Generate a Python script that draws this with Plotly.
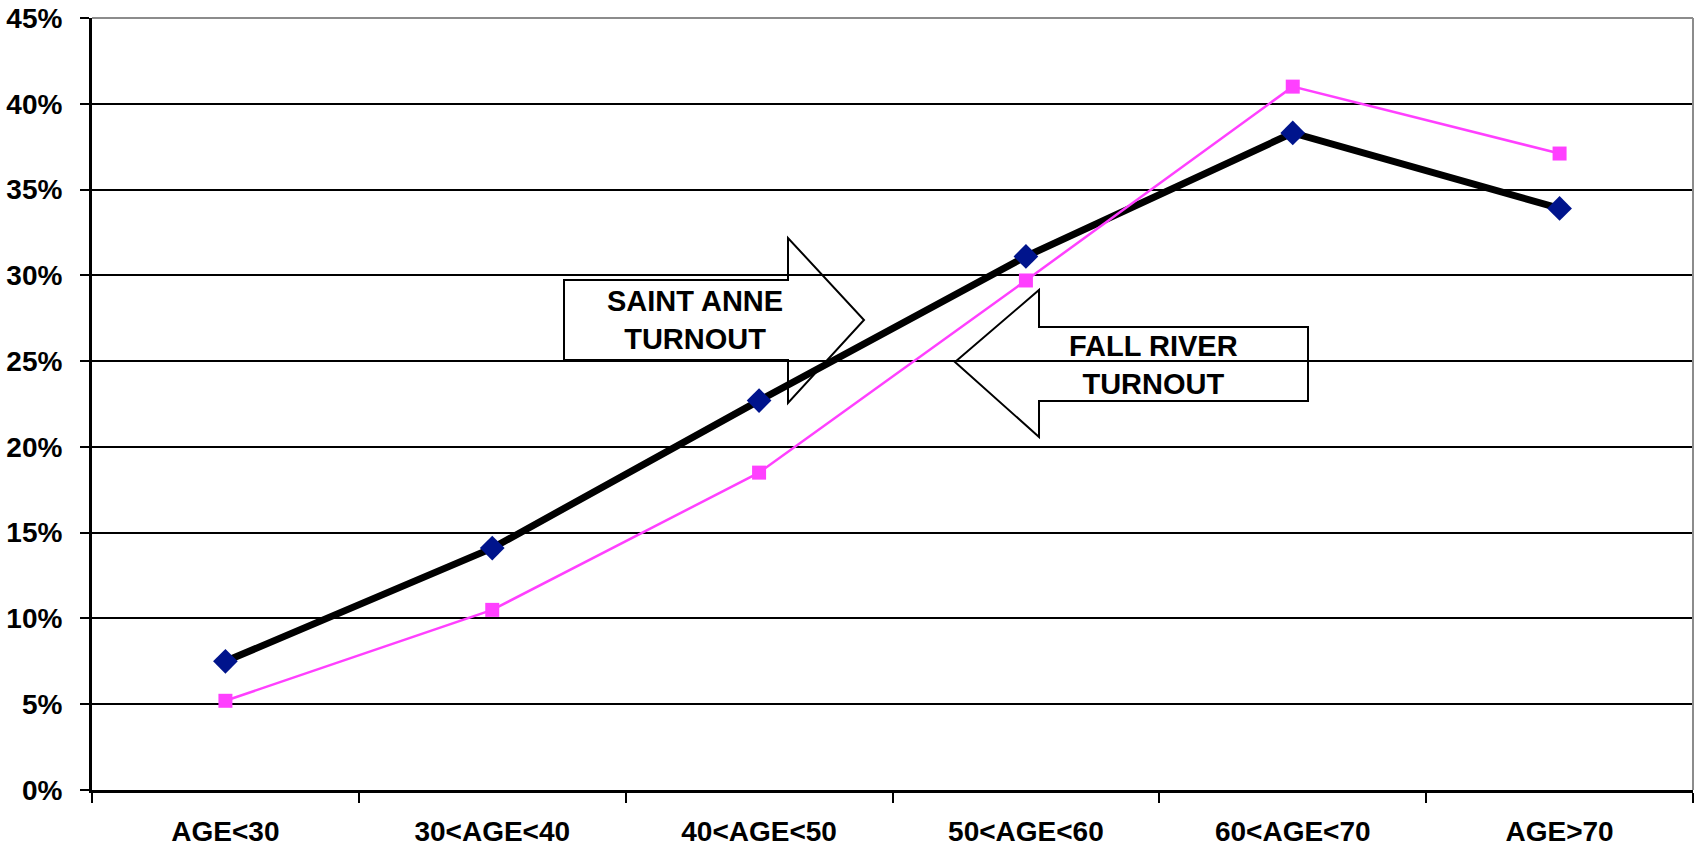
import plotly.graph_objects as go

categories = ["AGE<30", "30<AGE<40", "40<AGE<50", "50<AGE<60", "60<AGE<70", "AGE>70"]
saint_anne = [0.075, 0.141, 0.227, 0.311, 0.383, 0.339]
fall_river = [0.052, 0.105, 0.185, 0.297, 0.410, 0.371]
y_ticks = [0, 0.05, 0.10, 0.15, 0.20, 0.25, 0.30, 0.35, 0.40, 0.45]

W, H = 1694, 851
# plot area in page pixel coordinates
L, R, T, B = 92, 1693, 18, 790
FONT = "Liberation Sans, Arial, sans-serif"


def px(x):
    return (x - L) / (R - L)


def py(y):
    return (B - y) / (B - T)


def path(points):
    return "M " + " L ".join(f"{px(x):.5f},{py(y):.5f}" for x, y in points) + " Z"


fig = go.Figure()
fig.add_trace(go.Scatter(
    x=categories, y=saint_anne, mode="lines+markers", name="Saint Anne",
    line=dict(color="black", width=7),
    marker=dict(symbol="diamond", size=19, color="#00148C"),
))
fig.add_trace(go.Scatter(
    x=categories, y=fall_river, mode="lines+markers", name="Fall River",
    line=dict(color="#FF40FF", width=2.5),
    marker=dict(symbol="square", size=14, color="#FF40FF"),
))

# Arrow callouts
sa_arrow = [(564, 280), (788, 280), (788, 238), (864, 320), (788, 403), (788, 360), (564, 360)]
fr_arrow = [(1308, 327), (1039, 327), (1039, 290), (955, 362), (1039, 437), (1039, 401), (1308, 401)]
shapes = []
for pts in (sa_arrow, fr_arrow):
    shapes.append(dict(type="path", xref="paper", yref="paper", path=path(pts),
                       fillcolor="white", line=dict(color="black", width=2), layer="between"))
# plot area border (top / right)
shapes.append(dict(type="line", xref="paper", yref="paper", x0=0, x1=1, y0=1, y1=1,
                   line=dict(color="#8c8c8c", width=2), layer="above"))
shapes.append(dict(type="line", xref="paper", yref="paper", x0=1, x1=1, y0=0, y1=1,
                   line=dict(color="#8c8c8c", width=2), layer="above"))

annotations = [
    dict(xref="paper", yref="paper", x=px(695), y=py(320), text="SAINT ANNE<br>TURNOUT",
         showarrow=False, xanchor="center", yanchor="middle",
         font=dict(family=FONT, size=29, color="black", weight="bold")),
    dict(xref="paper", yref="paper", x=px(1153), y=py(365), text="FALL RIVER<br>TURNOUT",
         showarrow=False, xanchor="center", yanchor="middle",
         font=dict(family=FONT, size=29, color="black", weight="bold")),
]

fig.update_layout(
    width=W, height=H,
    margin=dict(l=L, r=W - R, t=T, b=H - B, pad=0),
    paper_bgcolor="white", plot_bgcolor="white",
    showlegend=False,
    shapes=shapes, annotations=annotations,
    xaxis=dict(
        type="category", categoryorder="array", categoryarray=categories,
        range=[-0.5, 5.5], showgrid=False, zeroline=False,
        showline=True, linecolor="black", linewidth=3,
        ticks="outside", tickson="boundaries", ticklen=10, tickwidth=2, tickcolor="black",
        tickfont=dict(family=FONT, size=28, color="black", weight="bold"),
        ticklabelstandoff=14,
    ),
    yaxis=dict(
        range=[0, 0.45], tickvals=y_ticks, tickformat=".0%",
        showgrid=True, gridcolor="black", gridwidth=2, zeroline=False,
        showline=True, linecolor="black", linewidth=3,
        ticks="outside", ticklen=9, tickwidth=2, tickcolor="black",
        tickfont=dict(family=FONT, size=28, color="black", weight="bold"),
        ticklabelstandoff=12,
    ),
)

fig.write_html(
    "out.html",
    config={"displayModeBar": False},
    post_script="document.body.style.margin='0';document.body.style.overflow='hidden';",
)
